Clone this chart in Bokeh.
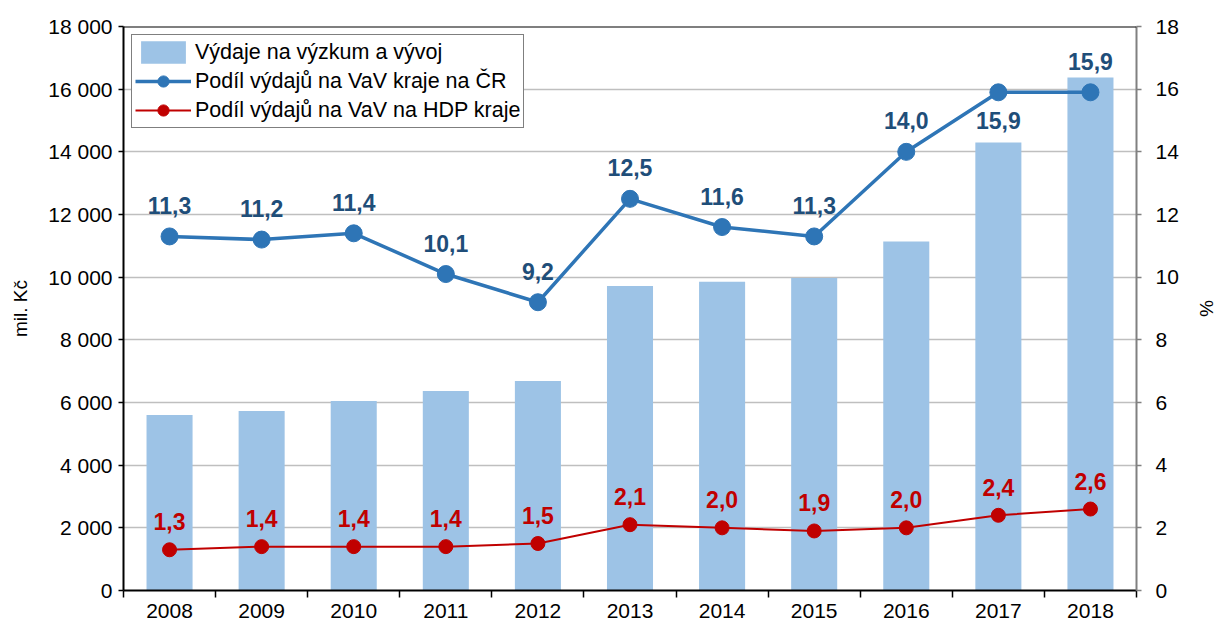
from bokeh.plotting import figure
from bokeh.models import Range1d, LinearAxis, FixedTicker, Span, Legend, LegendItem, ColumnDataSource
from bokeh.core.properties import value
from bokeh.embed import file_html
from bokeh.resources import INLINE

years = ["2008", "2009", "2010", "2011", "2012", "2013", "2014", "2015", "2016", "2017", "2018"]
spending = [5600, 5730, 6050, 6370, 6690, 9720, 9850, 9970, 11140, 14300, 16370]
share_cr = [11.3, 11.2, 11.4, 10.1, 9.2, 12.5, 11.6, 11.3, 14.0, 15.9, 15.9]
share_gdp = [1.3, 1.4, 1.4, 1.4, 1.5, 2.1, 2.0, 1.9, 2.0, 2.4, 2.6]
left_ticks = list(range(0, 18001, 2000))
right_ticks = list(range(0, 19, 2))

FONT = "Liberation Sans"
BAR = "#9DC3E6"
BLUE = "#2E75B6"
BLUE_TXT = "#1F4E79"
RED = "#C00000"
TICK_FS = "21px"

xs = list(range(len(years)))
fmt = lambda v: f"{v:.1f}".replace(".", ",")
src = ColumnDataSource(dict(
    x=xs, spend=spending, cr=share_cr, gdp=share_gdp,
    cr_lbl=[fmt(v) for v in share_cr], gdp_lbl=[fmt(v) for v in share_gdp],
    cr_off=[-31 if i != len(years) - 2 else 28 for i in xs],
))

p = figure(width=1225, height=625, output_backend="svg", toolbar_location=None,
           x_range=Range1d(-0.5, len(years) - 0.5), y_range=Range1d(0, 18000),
           min_border_left=123, min_border_right=89, min_border_top=26, min_border_bottom=35)
p.outline_line_color = None
p.background_fill_color = "white"
p.border_fill_color = "white"

p.extra_y_ranges = {"pct": Range1d(0, 18)}

# grid
p.xgrid.grid_line_color = None
p.ygrid.ticker = FixedTicker(ticks=left_ticks)
p.ygrid.grid_line_color = "#BFBFBF"
p.ygrid.grid_line_width = 1.5

# left axis
ya = p.yaxis[0]
ya.ticker = FixedTicker(ticks=left_ticks)
ya.major_label_overrides = {t: f"{t:,}".replace(",", " ") for t in left_ticks}
ya.axis_label = "mil. Kč"
ya.axis_line_color = "black"
ya.axis_line_width = 2
ya.major_tick_line_color = "black"
ya.major_tick_line_width = 1.5
ya.major_tick_in = 0
ya.major_tick_out = 5
ya.minor_tick_line_color = None
ya.major_label_text_font = FONT
ya.major_label_text_font_size = TICK_FS
ya.major_label_text_color = "black"
ya.major_label_standoff = 6
ya.axis_label_text_font = FONT
ya.axis_label_text_font_size = "19px"
ya.axis_label_text_font_style = "normal"
ya.axis_label_text_color = "black"
ya.axis_label_standoff = 14

# bottom axis
xa = p.xaxis[0]
xa.ticker = FixedTicker(ticks=xs, minor_ticks=[i - 0.5 for i in range(len(years) + 1)])
xa.major_label_overrides = {i: y for i, y in zip(xs, years)}
xa.major_tick_line_color = None
xa.minor_tick_line_color = "black"
xa.minor_tick_line_width = 1.5
xa.minor_tick_in = 0
xa.minor_tick_out = 7
xa.axis_line_color = "black"
xa.axis_line_width = 2
xa.major_label_text_font = FONT
xa.major_label_text_font_size = TICK_FS
xa.major_label_text_color = "black"
xa.major_label_standoff = 6

# right axis
ra = LinearAxis(y_range_name="pct", ticker=FixedTicker(ticks=right_ticks), axis_label="%")
ra.axis_line_color = "#808080"
ra.axis_line_width = 2
ra.major_tick_line_color = "#808080"
ra.major_tick_line_width = 1.5
ra.major_tick_in = 0
ra.major_tick_out = 5
ra.minor_tick_line_color = None
ra.major_label_text_font = FONT
ra.major_label_text_font_size = TICK_FS
ra.major_label_text_color = "black"
ra.major_label_standoff = 14
ra.axis_label_text_font = FONT
ra.axis_label_text_font_size = "19px"
ra.axis_label_text_font_style = "normal"
ra.axis_label_text_color = "black"
ra.axis_label_standoff = 14
p.add_layout(ra, "right")

# top border
p.add_layout(Span(location=18000, dimension="width", line_color="black", line_width=2))

bars = p.vbar(x="x", top="spend", width=0.5, source=src, fill_color=BAR, line_color=None)

l1 = p.line("x", "cr", source=src, y_range_name="pct", line_color=BLUE, line_width=3.5)
s1 = p.scatter("x", "cr", source=src, y_range_name="pct", size=17, fill_color=BLUE, line_color=BLUE)
l2 = p.line("x", "gdp", source=src, y_range_name="pct", line_color=RED, line_width=2)
s2 = p.scatter("x", "gdp", source=src, y_range_name="pct", size=14, fill_color=RED, line_color=RED)

p.text("x", "cr", text="cr_lbl", source=src, y_range_name="pct", y_offset="cr_off",
       text_align="center", text_baseline="middle", text_color=BLUE_TXT,
       text_font=value(FONT), text_font_size="23px", text_font_style="bold")
p.text("x", "gdp", text="gdp_lbl", source=src, y_range_name="pct", y_offset=-28,
       text_align="center", text_baseline="middle", text_color=RED,
       text_font=value(FONT), text_font_size="23px", text_font_style="bold")

legend = Legend(items=[
    LegendItem(label="Výdaje na výzkum a vývoj", renderers=[bars]),
    LegendItem(label="Podíl výdajů na VaV kraje na ČR", renderers=[l1, s1]),
    LegendItem(label="Podíl výdajů na VaV na HDP kraje", renderers=[l2, s2]),
])
legend.location = "top_left"
legend.margin = 8
legend.padding = 3
legend.spacing = 1
legend.glyph_width = 56
legend.glyph_height = 28
legend.label_standoff = 4
legend.label_text_font = FONT
legend.label_text_font_size = "21.5px"
legend.label_text_color = "black"
legend.border_line_color = "black"
legend.border_line_width = 1.5
legend.background_fill_alpha = 1
p.add_layout(legend)

open("out.html", "w").write(file_html(p, INLINE))
